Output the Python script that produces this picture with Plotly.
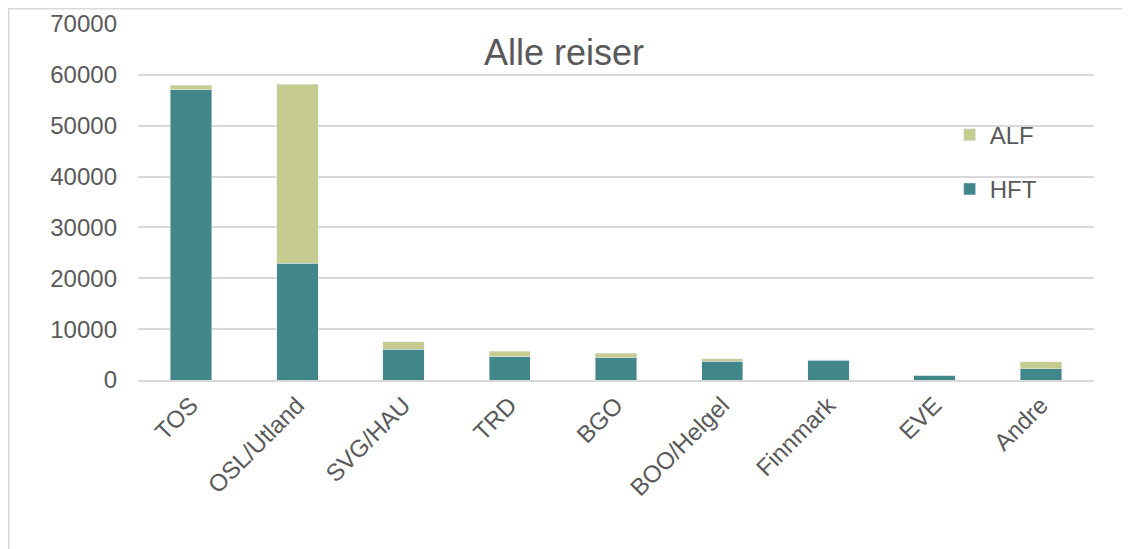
import plotly.graph_objects as go

categories = ["TOS", "OSL/Utland", "SVG/HAU", "TRD", "BGO", "BOO/Helgel", "Finnmark", "EVE", "Andre"]
hft = [57100, 23000, 6000, 4600, 4400, 3700, 3900, 900, 2200]
alf = [900, 35200, 1500, 1100, 900, 450, 50, 0, 1350]

HFT_COLOR = "#41878A"
ALF_COLOR = "#C6CC8F"
TEXT = "#595959"
GRID = "#D9D9D9"

fig = go.Figure()
fig.add_trace(go.Bar(name="HFT", x=categories, y=hft, marker_color=HFT_COLOR,
                     legendgroup="hft", legendrank=2))
fig.add_trace(go.Bar(name="ALF", x=categories, y=alf, marker_color=ALF_COLOR,
                     legendgroup="alf", legendrank=1))

fig.update_layout(
    width=1130, height=549,
    barmode="stack", bargap=0.61,
    paper_bgcolor="white", plot_bgcolor="white",
    margin=dict(l=130, r=44, t=16, b=177, autoexpand=False),
    font=dict(family="Liberation Sans, Arial, sans-serif", color=TEXT, size=24),
    title=dict(text="Alle reiser", font=dict(size=36, color=TEXT),
               xref="paper", x=0.4456, xanchor="center",
               yref="container", y=0.92, yanchor="middle"),
    legend=dict(x=0.849, y=0.751, xanchor="left", yanchor="top",
                traceorder="grouped", tracegroupgap=20,
                bgcolor="rgba(0,0,0,0)", font=dict(size=24, color=TEXT)),
    showlegend=True,
)
fig.update_yaxes(range=[0, 70000], dtick=10000, showgrid=True, gridcolor=GRID,
                 gridwidth=1.5, zeroline=False, showline=False, tickformat="d",
                 ticklabelstandoff=20, tickfont=dict(size=24, color=TEXT))
fig.update_xaxes(showline=True, linecolor=GRID, linewidth=1.5, tickangle=-45,
                 tickfont=dict(size=24, color=TEXT), ticks="")

fig.add_shape(type="rect", xref="paper", yref="paper",
              x0=-0.1352, x1=1.06, y0=-0.55, y1=1.0428,
              line=dict(color=GRID, width=1.5), layer="below")

fig.write_html("out.html")
